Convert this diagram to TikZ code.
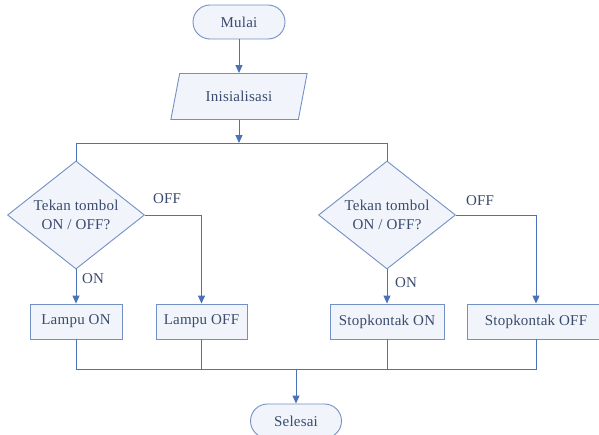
\documentclass[tikz,border=0pt]{standalone}
\usepackage{fontspec}
\setmainfont{Liberation Serif}
\newfontfamily\diagfont[LetterSpace=1.5]{Liberation Serif}
\usetikzlibrary{shapes.geometric,arrows.meta}
\definecolor{linec}{HTML}{4A72B8}
\definecolor{borderc}{HTML}{7390C4}
\definecolor{fillc}{HTML}{F1F5FB}
\definecolor{textc}{HTML}{3B4B6E}
\begin{document}
\begin{tikzpicture}[x=1pt,y=-1pt,
  every node/.style={font=\diagfont\fontsize{15}{18.5}\selectfont, text=textc},
  base/.style={draw=borderc, fill=fillc, line width=0.9pt},
  term/.style={base, rectangle, rounded corners=17pt, minimum width=92pt, minimum height=34pt, inner sep=0pt},
  io/.style={base, trapezium, trapezium left angle=65, trapezium right angle=115, trapezium stretches=true, minimum width=137pt, minimum height=46pt, inner sep=0pt},
  decide/.style={base, diamond, minimum width=137pt, minimum height=108pt, inner sep=-6pt, align=center},
  proc/.style={base, rectangle, minimum height=35pt, inner sep=0pt},
  conn/.style={draw=linec, line width=1pt},
  arr/.style={conn, -{Triangle[length=8pt,width=7pt]}},
  lbl/.style={inner sep=0pt}
]
\useasboundingbox (0,0) rectangle (599,434);
\fill[white] (0,0) rectangle (599,434);

\node[term] (mulai) at (239,22) {Mulai};
\node[io] (init) at (239,96.5) {Inisialisasi};
\coordinate (j1) at (239,143);

\node[decide] (d1) at (76,215) {Tekan tombol\\ON / OFF?};
\node[decide] (d2) at (387,215) {Tekan tombol\\ON / OFF?};

\node[proc, minimum width=92pt] (lon) at (76,321.5) {Lampu ON};
\node[proc, minimum width=91pt] (loff) at (201.5,321.5) {Lampu OFF};
\node[proc, minimum width=114pt] (son) at (387,321.5) {Stopkontak ON};
\node[proc, minimum width=138pt] (soff) at (536,321.5) {Stopkontak OFF};

\coordinate (j2) at (296,369);
\node[term, minimum width=91pt] (sel) at (296,421) {Selesai};

\draw[arr] (mulai.south) -- (init.north -| mulai.south);
\draw[arr] (init.south -| j1) -- (j1);
\draw[conn] (d1.north) -- (d1.north |- j1) -- (d2.north |- j1) -- (d2.north);

\draw[arr] (d1.south) -- (lon.north);
\draw[arr] (d1.east) -| (loff.north);
\draw[arr] (d2.south) -- (son.north);
\draw[arr] (d2.east) -| (soff.north);

\node[lbl] (on1) at (93,279) {ON};
\node[lbl] (off1) at (167,199) {OFF};
\node[lbl] (on2) at (406,283) {ON};
\node[lbl] (off2) at (480,201) {OFF};

\draw[conn] (lon.south) -- (lon.south |- j2) -- (soff.south |- j2) -- (soff.south);
\draw[conn] (loff.south) -- (loff.south |- j2);
\draw[conn] (son.south) -- (son.south |- j2);
\draw[arr] (j2) -- (sel.north);
\end{tikzpicture}
\end{document}
